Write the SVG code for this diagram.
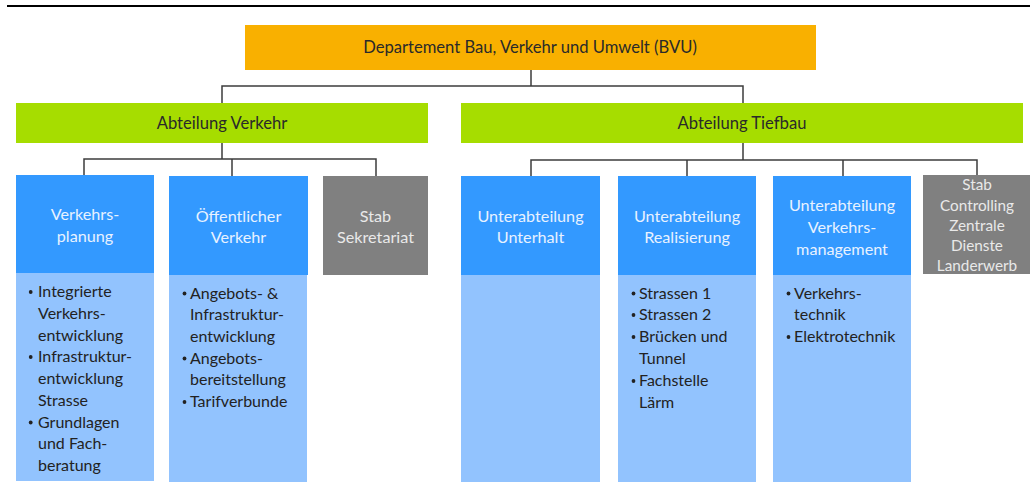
<svg xmlns="http://www.w3.org/2000/svg" width="1030" height="488" viewBox="0 0 1030 488">
<style>
text{font-family:Lato,"Open Sans","Liberation Sans",sans-serif;font-size:16px;}
.c{text-anchor:middle;}
.big{font-size:16.6px;}
.hd{font-size:16.2px;}
.sm{font-size:15.3px;}
.dk{fill:#2a2a2a;}
.wt{fill:#e8f2ff;}
.gt{fill:#e9e9e9;}
.li{fill:#222;}
.org{fill:#f9b000;}
.grn{fill:#a6dd00;}
.blu{fill:#3399ff;}
.lbl{fill:#92c3fe;}
.gry{fill:#808080;}
.bul{fill:#222;}
.conn{fill:none;stroke:#3c3c3c;stroke-width:1.5;}
</style>
<rect width="1030" height="488" fill="#ffffff"/>
<line x1="7" y1="6" x2="1030" y2="6" stroke="#000" stroke-width="2.2"/>
<g id="connectors" class="conn">
<path d="M531 70V86M222 103V86H743V103"/>
<path d="M222 143V159M84 175V159H376V176M232 159V176"/>
<path d="M743 143V160M531 176V160H977V175M687 160V176M843 160V176"/>
</g>
<g id="bvu">
<rect class="org" x="245" y="25" width="571" height="45"/>
<text class="c dk big" x="530" y="53">Departement Bau, Verkehr und Umwelt (BVU)</text>
</g>
<g id="abt-verkehr">
<rect class="grn" x="16" y="103" width="412" height="40"/>
<text class="c dk big" x="222" y="129">Abteilung Verkehr</text>
</g>
<g id="abt-tiefbau">
<rect class="grn" x="461" y="103" width="562" height="40"/>
<text class="c dk big" x="742" y="129">Abteilung Tiefbau</text>
</g>
<g id="verkehrsplanung">
<rect class="blu" x="16" y="175" width="138" height="98"/>
<rect class="lbl" x="16" y="273" width="138" height="208"/>
<text class="c wt hd" x="85" y="220">Verkehrs-</text>
<text class="c wt hd" x="85" y="242">planung</text>
<circle class="bul" cx="30.7" cy="292" r="1.9"/><text class="li" x="38" y="297">Integrierte</text>
<text class="li" x="38" y="319">Verkehrs-</text>
<text class="li" x="38" y="340.5">entwicklung</text>
<circle class="bul" cx="30.7" cy="357" r="1.9"/><text class="li" x="38" y="362">Infrastruktur-</text>
<text class="li" x="38" y="384">entwicklung</text>
<text class="li" x="38" y="406">Strasse</text>
<circle class="bul" cx="30.7" cy="422.5" r="1.9"/><text class="li" x="38" y="427.5">Grundlagen</text>
<text class="li" x="38" y="449">und Fach-</text>
<text class="li" x="38" y="471">beratung</text>
</g>
<g id="oev">
<rect class="blu" x="169" y="176" width="139" height="99"/>
<rect class="lbl" x="169" y="275" width="138" height="207"/>
<text class="c wt hd" x="238.5" y="222">Öffentlicher</text>
<text class="c wt hd" x="238.5" y="243">Verkehr</text>
<circle class="bul" cx="184.5" cy="293.5" r="1.9"/><text class="li" x="190" y="298.5">Angebots- &amp;</text>
<text class="li" x="190" y="320">Infrastruktur-</text>
<text class="li" x="190" y="342">entwicklung</text>
<circle class="bul" cx="184.5" cy="358.5" r="1.9"/><text class="li" x="190" y="363.5">Angebots-</text>
<text class="li" x="190" y="385">bereitstellung</text>
<circle class="bul" cx="184.5" cy="402" r="1.9"/><text class="li" x="190" y="407">Tarifverbunde</text>
</g>
<g id="stab-sekretariat">
<rect class="gry" x="323" y="176" width="105" height="99"/>
<text class="c gt hd" x="375.5" y="222">Stab</text>
<text class="c gt hd" x="375.5" y="243">Sekretariat</text>
</g>
<g id="unterhalt">
<rect class="blu" x="461" y="176" width="139" height="99"/>
<rect class="lbl" x="461" y="275" width="139" height="207"/>
<text class="c wt hd" x="530.5" y="222">Unterabteilung</text>
<text class="c wt hd" x="530.5" y="243">Unterhalt</text>
</g>
<g id="realisierung">
<rect class="blu" x="618" y="176" width="138" height="99"/>
<rect class="lbl" x="618" y="275" width="138" height="207"/>
<text class="c wt hd" x="687" y="222">Unterabteilung</text>
<text class="c wt hd" x="687" y="243">Realisierung</text>
<circle class="bul" cx="633.5" cy="293.5" r="1.9"/><text class="li" x="639" y="298.5">Strassen 1</text>
<circle class="bul" cx="633.5" cy="315" r="1.9"/><text class="li" x="639" y="320">Strassen 2</text>
<circle class="bul" cx="633.5" cy="337" r="1.9"/><text class="li" x="639" y="342">Brücken und</text>
<text class="li" x="639" y="363.5">Tunnel</text>
<circle class="bul" cx="633.5" cy="381" r="1.9"/><text class="li" x="639" y="386">Fachstelle</text>
<text class="li" x="639" y="407.5">Lärm</text>
</g>
<g id="verkehrsmanagement">
<rect class="blu" x="773" y="176" width="138" height="99"/>
<rect class="lbl" x="773" y="275" width="138" height="207"/>
<text class="c wt hd" x="842" y="211">Unterabteilung</text>
<text class="c wt hd" x="842" y="233">Verkehrs-</text>
<text class="c wt hd" x="842" y="255">management</text>
<circle class="bul" cx="788.5" cy="293.5" r="1.9"/><text class="li" x="794" y="298.5">Verkehrs-</text>
<text class="li" x="794" y="320">technik</text>
<circle class="bul" cx="788.5" cy="337" r="1.9"/><text class="li" x="794" y="342">Elektrotechnik</text>
</g>
<g id="stab-controlling">
<rect class="gry" x="923" y="175" width="107" height="99"/>
<text class="c gt sm" x="977" y="190">Stab</text>
<text class="c gt sm" x="977" y="210.5">Controlling</text>
<text class="c gt sm" x="977" y="231">Zentrale</text>
<text class="c gt sm" x="977" y="251">Dienste</text>
<text class="c gt sm" x="977" y="271">Landerwerb</text>
</g>
</svg>
